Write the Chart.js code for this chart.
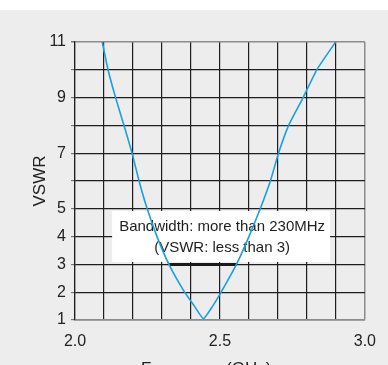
<!DOCTYPE html>
<html>
<head>
<meta charset="utf-8">
<script src="https://cdn.jsdelivr.net/npm/chart.js@4"></script>
<style>
  html, body { margin: 0; padding: 0; }
  #wrap {
    width: 388px; height: 365px; position: relative;
    background: linear-gradient(#ffffff 0 10px, #ededed 10px);
  }
</style>
</head>
<body>
<div id="wrap"><canvas id="chart" width="388" height="365"></canvas></div>
<script>
const freqs = [2.094, 2.114, 2.140, 2.169, 2.197, 2.221, 2.249, 2.283, 2.324, 2.378, 2.412, 2.443,
               2.475, 2.504, 2.557, 2.600, 2.639, 2.674, 2.702, 2.737, 2.787, 2.834, 2.899]
const vswr = [11, 10, 9, 8, 7, 6, 5, 4, 3, 2, 1.5, 1.05,
              1.5, 2, 3, 4, 5, 6, 7, 8, 9, 10, 11]
const yLabels = [1, 2, 3, 4, 5, 7, 9, 11]
const xLabels = [2.0, 2.5, 3.0]
// band where VSWR < 3
const band = [2.324, 2.557]
const bandLevel = 3
const noteLines = ["Bandwidth: more than 230MHz", "(VSWR: less than 3)"]
const noteBox = { x0: 2.128, x1: 2.880, y0: 4.92, y1: 3.09 }

const font = "'Liberation Sans', Arial, sans-serif"
const dark = '#1e1e1e'
const frame = '#8c8c8c'

const points = freqs.map((f, i) => ({ x: f, y: vswr[i] }))

const notePlugin = {
  id: 'note',
  beforeDatasetsDraw(chart) {
    const ctx = chart.ctx
    const xs = chart.scales.x, ys = chart.scales.y
    ctx.save()
    // white box hiding the grid behind the text
    const bx0 = xs.getPixelForValue(noteBox.x0), bx1 = xs.getPixelForValue(noteBox.x1)
    const by0 = ys.getPixelForValue(noteBox.y0), by1 = ys.getPixelForValue(noteBox.y1)
    ctx.fillStyle = '#ffffff'
    ctx.fillRect(bx0, by0, bx1 - bx0, by1 - by0)
    // bandwidth bar
    ctx.strokeStyle = '#1a1a1a'
    ctx.lineWidth = 3
    ctx.beginPath()
    ctx.moveTo(xs.getPixelForValue(band[0]), ys.getPixelForValue(bandLevel))
    ctx.lineTo(xs.getPixelForValue(band[1]), ys.getPixelForValue(bandLevel))
    ctx.stroke()
    // text
    ctx.fillStyle = '#1e1e1e'
    ctx.font = '15px ' + font
    ctx.textAlign = 'center'
    ctx.textBaseline = 'alphabetic'
    const cx = (bx0 + bx1) / 2 + 1
    ctx.fillText(noteLines[0], cx, by0 + 20)
    ctx.fillText(noteLines[1], cx, by0 + 41)
    ctx.restore()
  },
  afterDraw(chart) {
    const ctx = chart.ctx
    ctx.save()
    ctx.fillStyle = '#222'
    ctx.font = '17px ' + font
    ctx.textAlign = 'left'
    ctx.textBaseline = 'alphabetic'
    ctx.fillText('Frequency (GHz)', 141, 374)
    ctx.restore()
  }
}

new Chart(document.getElementById('chart'), {
  type: 'line',
  data: {
    datasets: [{
      data: points,
      borderColor: '#1a9fe0',
      borderWidth: 1.6,
      pointRadius: 0,
      tension: 0.15,
      fill: false
    }]
  },
  options: {
    responsive: false,
    animation: false,
    events: [],
    layout: { padding: { left: 0, top: 42, right: 22, bottom: 0 } },
    plugins: {
      legend: { display: false },
      tooltip: { enabled: false }
    },
    scales: {
      x: {
        type: 'linear',
        min: 2, max: 3,
        afterFit(scale) { scale.height = 45 },
        border: { color: frame, width: 1.5 },
        grid: {
          color: ctx => Math.abs(ctx.tick.value - 3) < 1e-6 ? frame : dark,
          lineWidth: ctx => Math.abs(ctx.tick.value - 3) < 1e-6 ? 1.5 : 1.2,
          drawTicks: false
        },
        ticks: {
          stepSize: 0.1,
          autoSkip: false,
          maxRotation: 0,
          padding: 12,
          color: '#222',
          font: { family: font, size: 16 },
          callback: v => xLabels.some(l => Math.abs(l - v) < 1e-6) ? Number(v).toFixed(1) : ''
        }
      },
      y: {
        min: 1, max: 11,
        afterFit(scale) { scale.width = 75 },
        border: { color: dark, width: 1.2 },
        grid: {
          color: ctx => ctx.tick.value === 11 ? frame : dark,
          lineWidth: ctx => ctx.tick.value === 11 ? 1.5 : 1.2,
          tickLength: 4,
          tickColor: '#777'
        },
        ticks: {
          stepSize: 1,
          autoSkip: false,
          padding: 5,
          color: '#222',
          font: { family: font, size: 16 },
          callback: v => yLabels.includes(v) ? String(v) : ''
        },
        title: {
          display: true,
          text: 'VSWR',
          color: '#222',
          font: { family: font, size: 17 },
          padding: { top: 30, bottom: 0 }
        }
      }
    }
  },
  plugins: [notePlugin]
})
</script>
</body>
</html>
